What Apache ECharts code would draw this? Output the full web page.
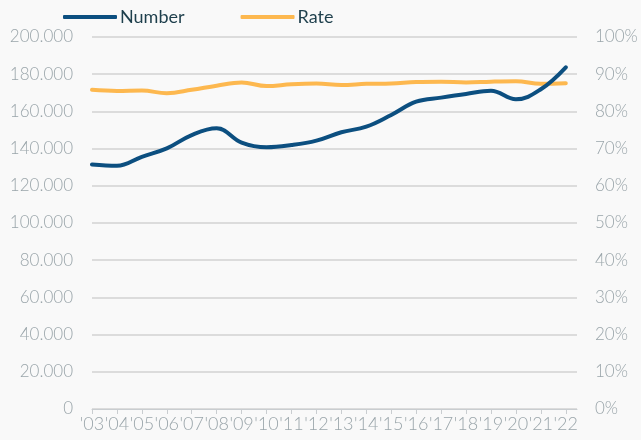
<!DOCTYPE html>
<html>
<head>
<meta charset="utf-8">
<script src="https://cdn.jsdelivr.net/npm/echarts@6/dist/echarts.min.js"></script>
<style>
  html, body { margin: 0; padding: 0; background: #f9f9f9; }
  #chart { width: 641px; height: 440px; }
</style>
</head>
<body>
<div id="chart"></div>
<script>
// Years shown on the horizontal axis
const years = ["'03","'04","'05","'06","'07","'08","'09","'10","'11","'12",
               "'13","'14","'15","'16","'17","'18","'19","'20","'21","'22"];

// Absolute number (left axis)
const numberValues = [131500, 130800, 135600, 140100, 147300, 150900, 143200, 140700, 141900, 144300,
                      148800, 151800, 158100, 165200, 167400, 169400, 171100, 166500, 171900, 183700];

// Rate in percent (right axis)
const rateValues = [85.8, 85.5, 85.6, 84.9, 85.8, 86.9, 87.8, 86.8, 87.3, 87.5,
                    87.1, 87.4, 87.5, 87.9, 88.0, 87.8, 88.0, 88.1, 87.4, 87.6];

const labelColor = '#9aa5aa';
const font = 'Lato';

function fmtThousands(v) {
  if (v === 0) return '0';
  return String(v).replace(/\B(?=(\d{3})+(?!\d))/g, '.');
}

const chart = echarts.init(document.getElementById('chart'), null, { renderer: 'canvas' });
chart.setOption({
  backgroundColor: '#f9f9f9',
  animation: false,
  legend: {
    top: 3,
    left: 58,
    itemWidth: 54,
    itemHeight: 4,
    itemGap: 56,
    icon: 'roundRect',
    textStyle: { fontFamily: font, fontSize: 18, color: '#1e3f4c', padding: [0, 0, 0, -2] },
    data: ['Number', 'Rate']
  },
  grid: { left: 92, right: 64, top: 37, bottom: 31, containLabel: false },
  xAxis: {
    type: 'value',
    min: 0,
    max: 19.45,
    interval: 1,
    splitLine: { show: false },
    axisLine: { show: true, lineStyle: { color: '#c9cdd0', width: 1 } },
    axisTick: { show: true, length: 5, lineStyle: { color: '#c9cdd0' } },
    axisLabel: {
      margin: 6,
      showMaxLabel: false,
      hideOverlap: false,
      fontFamily: font, fontSize: 18, fontWeight: 300, color: labelColor,
      formatter: v => (Number.isInteger(v) && years[v] !== undefined) ? years[v] : ''
    }
  },
  yAxis: [
    {
      type: 'value', min: 0, max: 200000, interval: 20000,
      axisLine: { show: false }, axisTick: { show: false },
      splitLine: { lineStyle: { color: '#dcdcdc', width: 2 } },
      axisLabel: { margin: 19, fontFamily: font, fontSize: 17, fontWeight: 300, color: labelColor, formatter: fmtThousands }
    },
    {
      type: 'value', min: 0, max: 100, interval: 10,
      axisLine: { show: false }, axisTick: { show: false },
      splitLine: { show: false },
      axisLabel: { margin: 18, fontFamily: font, fontSize: 17, fontWeight: 300, color: labelColor, formatter: v => v + '%' }
    }
  ],
  series: [
    {
      name: 'Number', type: 'line', yAxisIndex: 0, smooth: 0.4, showSymbol: false,
      color: '#0c4f80',
      lineStyle: { width: 4, color: '#0c4f80', cap: 'round' },
      data: numberValues.map((v, i) => [i, v])
    },
    {
      name: 'Rate', type: 'line', yAxisIndex: 1, smooth: 0.4, showSymbol: false,
      color: '#fdb84f',
      lineStyle: { width: 4, color: '#fdb84f', cap: 'round' },
      data: rateValues.map((v, i) => [i, v]),
      z: 1
    }
  ]
});
</script>
</body>
</html>
